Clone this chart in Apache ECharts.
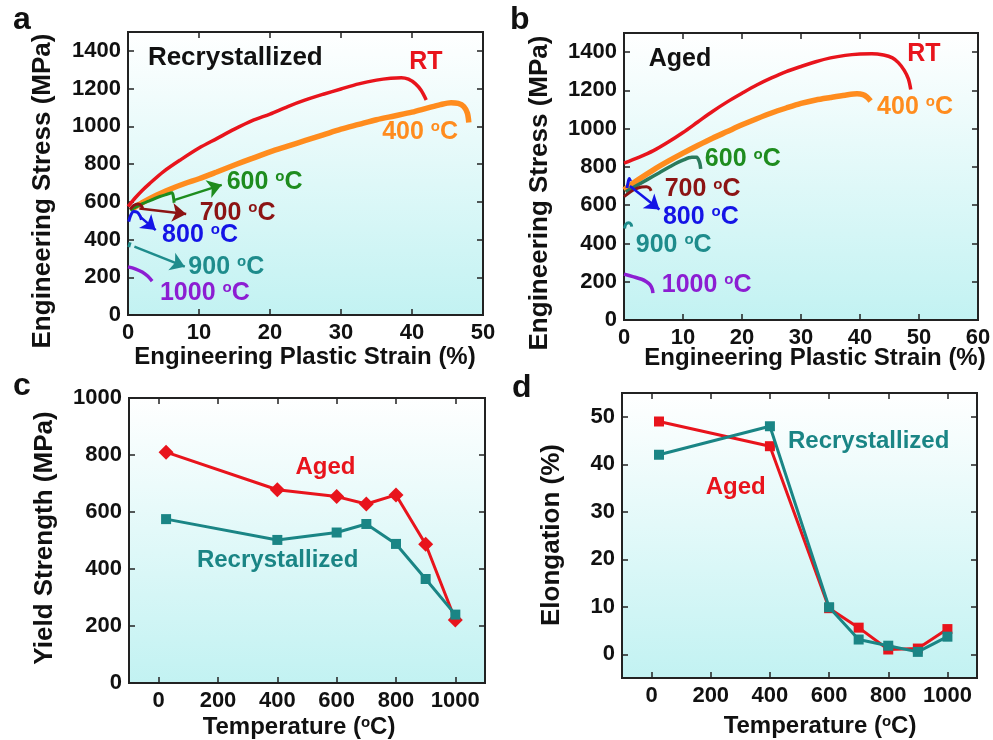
<!DOCTYPE html>
<html><head><meta charset="utf-8">
<script src="https://cdn.jsdelivr.net/npm/echarts@6/dist/echarts.min.js"></script>
<style>html,body{margin:0;padding:0;background:#fff}#c{width:993px;height:740px}</style>
</head><body><div id="c"></div>
<script>
// ---------- Panel a (Recrystallized) stress-strain curves: [strain %, stress MPa]
const recRT   = [[0,575],[1,620],[2,660],[3,695],[5,760],[7.5,825],[10,885],[12.5,935],[15,985],[17.5,1030],[20,1065],[22.5,1105],[25,1140],[27.5,1170],[30,1198],[32.5,1225],[35,1245],[37,1255],[38.5,1258],[39.5,1250],[40.5,1225],[41.3,1190],[42,1140]];
const rec400  = [[0.5,560],[2,595],[4,635],[6,668],[8,697],[10,722],[12.5,758],[15,795],[17.5,830],[20,865],[22.5,895],[25,925],[27.5,955],[30,985],[32.5,1010],[35,1035],[37.5,1055],[40,1075],[42,1095],[44,1115],[45.5,1125],[46.5,1122],[47.3,1105],[47.8,1070],[48,1020]];
const rec600  = [[0.3,555],[1.5,580],[3,605],[4.5,628],[5.5,640],[6.2,648],[6.4,625],[6.5,595]];
const rec700  = [[0.3,560],[0.8,580],[1.4,588],[1.9,578],[2.1,560]];
const rec800  = [[0.1,495],[0.4,530],[0.8,548],[1.3,545],[1.7,525],[1.9,505]];
const rec900  = [[0.1,360],[0.3,385]];
const rec1000 = [[0,255],[1,245],[2,228],[2.8,205],[3.4,180]];
// annotation arrows (from -> to) in data units
const recArrows = [
  {from:[6.6,610], to:[13.2,690], color:'#1e8c1e'},
  {from:[1.6,565], to:[8.2,535], color:'#8c1414'},
  {from:[1.9,515], to:[3.9,450], color:'#1414e6'},
  {from:[0.9,362], to:[8.0,256], color:'#1e8c8c'}
];
// annotation labels [left x, centre y, text, sup suffix, color, fontSize]
const recLabels = [
  [2.8,1363,'Recrystallized','', '#111', 26],
  [39.6,1341,'RT','', '#e8141c', 25],
  [35.8,970,'400 ','C','#ff8c1e', 25],
  [13.9,705,'600 ','C','#1e8c1e', 25],
  [10.1,541,'700 ','C','#8c1414', 25],
  [4.8,424,'800 ','C','#1414e6', 25],
  [8.5,255,'900 ','C','#1e8c8c', 25],
  [4.5,117,'1000 ','C','#8c1ed2', 25]
];

// ---------- Panel b (Aged)
const agedRT   = [[0,820],[2.5,850],[5,885],[7.5,930],[10,980],[12.5,1035],[15,1090],[17.5,1140],[20,1185],[22.5,1228],[25,1265],[27.5,1298],[30,1325],[32.5,1350],[35,1370],[37.5,1383],[40,1390],[42,1392],[44,1385],[45.5,1370],[46.5,1345],[47.5,1305],[48.2,1260],[48.6,1205]];
const aged400  = [[0,680],[2.5,735],[5,785],[7.5,830],[10,872],[12.5,912],[15,950],[17.5,985],[20,1020],[22.5,1052],[25,1082],[27.5,1108],[30,1132],[32.5,1150],[35,1163],[37.5,1175],[39.5,1182],[40.5,1178],[41.2,1165],[41.8,1145]];
const aged600  = [[0.3,670],[2,700],[4,735],[6,770],[8,805],[10,835],[11.5,850],[12.3,850],[12.8,825],[13,790]];
const aged700  = [[0,645],[1,668],[2,685],[3,695],[3.8,697],[4.3,690],[4.6,675]];
const aged800  = [[0.5,690],[0.7,720],[0.9,740],[1.1,725]];
const aged900  = [[0.1,478],[0.3,500],[0.8,508],[1.2,500],[1.3,488]];
const aged1000 = [[0,240],[1.5,227],[3,213],[3.8,200],[4.4,185],[4.8,160],[4.9,140]];
const agedArrows = [ {from:[1.0,700], to:[6.0,577], color:'#1414e6'} ];
const agedLabels = [
  [4.2,1363,'Aged','', '#111', 25],
  [48.0,1390,'RT','', '#e8141c', 25],
  [42.9,1112,'400 ','C','#ff8c1e', 25],
  [13.7,839,'600 ','C','#1e8c1e', 25],
  [6.9,682,'700 ','C','#8c1414', 25],
  [6.6,540,'800 ','C','#1414e6', 25],
  [2.0,393,'900 ','C','#1e8c8c', 25],
  [6.4,184,'1000 ','C','#8c1ed2', 25]
];

// ---------- Panel c / d
const temps = [25,400,600,700,800,900,1000];
const ysAged = [810,678,654,628,660,487,221];
const ysRec  = [575,502,528,558,488,365,240];
const elAged = [49,43.8,9.7,5.6,1.0,1.2,5.3];
const elRec  = [42,48,9.9,3.1,1.8,0.5,3.7];
const ysLabels = [[461,758,'Aged','','#e8141c',24],[129,432,'Recrystallized','','#1a8585',24]];
const elLabels = [[461,44.9,'Recrystallized','','#1a8585',24],[183,35.2,'Aged','','#e8141c',24]];

// tick label arrays
const ticksStress = [0,200,400,600,800,1000,1200,1400];
const ticksStrainA = [0,10,20,30,40,50];
const ticksStrainB = [0,10,20,30,40,50,60];
const ticksTemp = [0,200,400,600,800,1000];
const ticksYS = [0,200,400,600,800,1000];
const ticksEl = [0,10,20,30,40,50];

// axis titles
const strainTitle = 'Engineering Plastic Strain (%)';
const stressTitle = 'Engineering Stress (MPa)';
const tempTitle = 'Temperature ({s|o}C)';
const ysTitle = 'Yield Strength (MPa)';
const elTitle = 'Elongation (%)';

const FF = '"Liberation Sans", Arial, sans-serif';
const grids = [
  {left:128, top:32, width:355, height:283},
  {left:624, top:33, width:354, height:287},
  {left:129, top:398, width:356, height:285},
  {left:622, top:393, width:355, height:285}
];
const bg = {type:'linear', x:0, y:0, x2:0, y2:1, colorStops:[{offset:0,color:'#ffffff'},{offset:1,color:'#c2f2f2'}]};

function axis(gi, pos, min, max, interval, ticks, showLabel){
  return {
    type:'value', gridIndex:gi, position:pos, min:min, max:max, interval:interval,
    splitLine:{show:false},
    axisLine:{show:false, onZero:false},
    axisTick:{show:true, inside:true, length:6, lineStyle:{color:'#222', width:1.5}, customValues:ticks},
    axisLabel:{show:showLabel, customValues:ticks, color:'#111', fontSize:22, fontWeight:'bold', fontFamily:FF, margin:7,
      formatter: v => String(v)}
  };
}

const xAxis = [
  axis(0,'bottom',0,50,10,ticksStrainA,true),
  axis(1,'bottom',0,60,10,ticksStrainB,true),
  axis(2,'bottom',-100,1100,100,ticksTemp,true),
  axis(3,'bottom',-100,1100,100,ticksTemp,true),
  axis(0,'top',0,50,10,ticksStrainA,false),
  axis(1,'top',0,60,10,ticksStrainB,false),
  axis(2,'top',-100,1100,100,ticksTemp,false),
  axis(3,'top',-100,1100,100,ticksTemp,false)
];
const yAxis = [
  axis(0,'left',0,1500,100,ticksStress,true),
  axis(1,'left',0,1500,100,ticksStress,true),
  axis(2,'left',0,1000,100,ticksYS,true),
  axis(3,'left',-5,55,5,ticksEl,true),
  axis(0,'right',0,1500,100,ticksStress,false),
  axis(1,'right',0,1500,100,ticksStress,false),
  axis(2,'right',0,1000,100,ticksYS,false),
  axis(3,'right',-5,55,5,ticksEl,false)
];

const series = [];
function curve(gi, data, color, width){
  series.push({type:'line', xAxisIndex:gi, yAxisIndex:gi, data:data, showSymbol:false, smooth:0.3,
    lineStyle:{color:color, width:width}, silent:true, z:3});
}
function arrows(gi, list){
  list.forEach(a=>{
    series.push({type:'line', xAxisIndex:gi, yAxisIndex:gi, data:[], silent:true,
      markLine:{silent:true, symbol:['none','arrow'], symbolSize:14, animation:false,
        label:{show:false}, lineStyle:{color:a.color, width:2.5, type:'solid', opacity:1},
        itemStyle:{color:a.color},
        data:[[{coord:a.from},{coord:a.to}]]}});
  });
}
function labels(gi, list){
  series.push({type:'scatter', xAxisIndex:gi, yAxisIndex:gi, symbolSize:0, silent:true, z:5,
    itemStyle:{opacity:1},
    data:list.map(l=>({value:[l[0],l[1]],
      label:{show:true, position:'right', distance:0, opacity:1, color:l[4], fontSize:l[5], fontWeight:'bold', fontFamily:FF,
        formatter: l[3] ? (l[2]+'{s|o}'+'{m|'+l[3]+'}') : l[2],
        rich:{s:{fontSize:15, fontWeight:'bold', fontFamily:FF, color:l[4], verticalAlign:'top', lineHeight:15},
              m:{fontSize:l[5], fontWeight:'bold', fontFamily:FF, color:l[4]}}}}))
  });
}

// panel a
curve(0, recRT, '#e8141c', 3.5);
curve(0, rec400, '#ff8c1e', 5.5);
curve(0, rec600, '#1e8c1e', 3);
curve(0, rec700, '#8c1414', 3);
curve(0, rec800, '#1414e6', 3);
curve(0, rec900, '#1e8c8c', 3);
curve(0, rec1000, '#8c1ed2', 3.5);
arrows(0, recArrows);
labels(0, recLabels);
// panel b
curve(1, agedRT, '#e8141c', 3.5);
curve(1, aged400, '#ff8c1e', 5.5);
curve(1, aged600, '#2a7a5c', 3.5);
curve(1, aged700, '#8c1414', 3);
curve(1, aged800, '#1414e6', 3);
curve(1, aged900, '#1e8c8c', 3);
curve(1, aged1000, '#8c1ed2', 3.5);
arrows(1, agedArrows);
labels(1, agedLabels);
// panel c
series.push({type:'line', xAxisIndex:2, yAxisIndex:2, data:temps.map((t,i)=>[t,ysAged[i]]), symbol:'diamond', symbolSize:15,
  lineStyle:{color:'#e8141c', width:3}, itemStyle:{color:'#e8141c', opacity:1}, z:3});
series.push({type:'line', xAxisIndex:2, yAxisIndex:2, data:temps.map((t,i)=>[t,ysRec[i]]), symbol:'rect', symbolSize:10,
  lineStyle:{color:'#1a8585', width:3}, itemStyle:{color:'#1a8585', opacity:1}, z:4});
labels(2, ysLabels);
// panel d
series.push({type:'line', xAxisIndex:3, yAxisIndex:3, data:temps.map((t,i)=>[t,elAged[i]]), symbol:'rect', symbolSize:10,
  lineStyle:{color:'#e8141c', width:3}, itemStyle:{color:'#e8141c', opacity:1}, z:3});
series.push({type:'line', xAxisIndex:3, yAxisIndex:3, data:temps.map((t,i)=>[t,elRec[i]]), symbol:'rect', symbolSize:10,
  lineStyle:{color:'#1a8585', width:3}, itemStyle:{color:'#1a8585', opacity:1}, z:4});
labels(3, elLabels);

const rich = {s:{fontSize:15, fontWeight:'bold', fontFamily:FF, fill:'#111', verticalAlign:'top', lineHeight:15}};
function title(text, x, y, rot, size){
  return {type:'text', x:x, y:y, rotation:rot, silent:true,
    style:{text:text, fontSize:size, fontWeight:'bold', fontFamily:FF, fill:'#111', align:'center', verticalAlign:'middle', rich:rich}};
}
const graphic = [
  {type:'text', left:13, top:4, style:{text:'a', font:'bold 32px '+FF, fill:'#111'}},
  {type:'text', left:510, top:4, style:{text:'b', font:'bold 32px '+FF, fill:'#111'}},
  {type:'text', left:13, top:370, style:{text:'c', font:'bold 32px '+FF, fill:'#111'}},
  {type:'text', left:512, top:372, style:{text:'d', font:'bold 32px '+FF, fill:'#111'}},
  title(stressTitle, 43, 191, Math.PI/2, 26),
  title(stressTitle, 540, 193, Math.PI/2, 26),
  title(ysTitle, 45, 538, Math.PI/2, 26),
  title(elTitle, 552, 535, Math.PI/2, 26),
  title(strainTitle, 305, 357, 0, 24),
  title(strainTitle, 815, 358, 0, 24),
  title(tempTitle, 299, 727, 0, 24),
  title(tempTitle, 820, 726, 0, 24)
];

const chart = echarts.init(document.getElementById('c'), null, {renderer:'canvas'});
chart.setOption({
  animation:false,
  backgroundColor:'#ffffff',
  grid: grids.map(g=>Object.assign({show:true, backgroundColor:bg, borderColor:'#222', borderWidth:2, containLabel:false, outerBoundsMode:'none'}, g)),
  xAxis:xAxis, yAxis:yAxis, series:series, graphic:graphic
});
</script></body></html>
